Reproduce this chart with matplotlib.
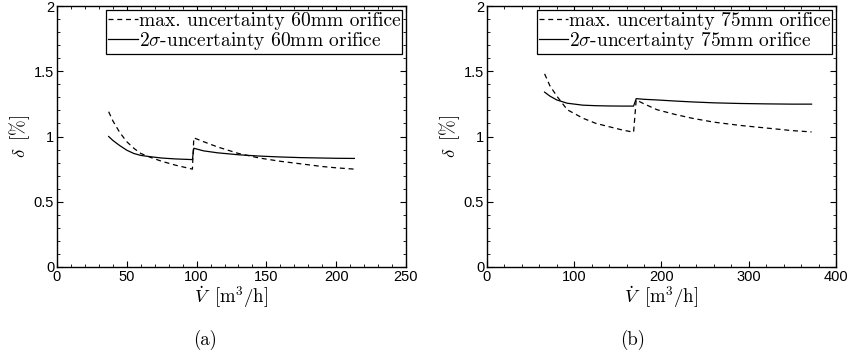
import matplotlib.pyplot as plt
from matplotlib.ticker import MultipleLocator

plt.rcParams['mathtext.fontset'] = 'cm'
plt.rcParams['font.family'] = ['Liberation Sans', 'DejaVu Sans']

# (a) 60mm orifice
x_a1 = [37, 40, 45, 50, 55, 60, 67, 75, 85, 97]
max_a1 = [1.19, 1.12, 1.03, 0.96, 0.91, 0.87, 0.84, 0.81, 0.78, 0.75]
sig_a1 = [1.00, 0.97, 0.93, 0.895, 0.87, 0.855, 0.845, 0.835, 0.828, 0.823]
x_a2 = [98, 105, 115, 130, 145, 160, 175, 190, 200, 213]
max_a2 = [0.99, 0.96, 0.92, 0.87, 0.835, 0.81, 0.79, 0.77, 0.76, 0.75]
sig_a2 = [0.91, 0.89, 0.875, 0.86, 0.85, 0.843, 0.838, 0.835, 0.833, 0.832]

# (b) 75mm orifice
x_b1 = [66, 72, 80, 92, 110, 125, 140, 155, 168]
max_b1 = [1.48, 1.39, 1.31, 1.205, 1.14, 1.10, 1.075, 1.05, 1.033]
sig_b1 = [1.34, 1.31, 1.28, 1.255, 1.24, 1.236, 1.234, 1.233, 1.233]
x_b2 = [171, 180, 195, 215, 235, 260, 290, 320, 350, 372]
max_b2 = [1.28, 1.25, 1.205, 1.17, 1.14, 1.11, 1.085, 1.065, 1.045, 1.035]
sig_b2 = [1.29, 1.285, 1.28, 1.272, 1.265, 1.258, 1.253, 1.25, 1.248, 1.248]

panels = [
    (x_a1, max_a1, sig_a1, x_a2, max_a2, sig_a2, '60mm', 250, 50, 10, '(a)'),
    (x_b1, max_b1, sig_b1, x_b2, max_b2, sig_b2, '75mm', 400, 100, 20, '(b)'),
]

fig = plt.figure(figsize=(8.54, 3.53), dpi=100)
lefts = [57 / 854, 487 / 854]
caps = [205 / 854, 633 / 854]
for (xs1, m1, s1, xs2, m2, s2, d, xmax, xmaj, xmin, cap), l, c in zip(panels, lefts, caps):
    ax = fig.add_axes([l, (353 - 267) / 353, 349 / 854, 261 / 353])
    ax.plot(xs1 + xs2, m1 + m2, 'k--', lw=0.9, dashes=(4, 3),
            label='max. uncertainty %s orifice' % d)
    ax.plot(xs1 + xs2, s1 + s2, 'k-', lw=0.9,
            label=r'2$\sigma$-uncertainty %s orifice' % d)
    ax.set_xlim(0, xmax)
    ax.set_ylim(0, 2)
    ax.xaxis.set_major_locator(MultipleLocator(xmaj))
    ax.xaxis.set_minor_locator(MultipleLocator(xmin))
    ax.yaxis.set_major_locator(MultipleLocator(0.5))
    ax.yaxis.set_minor_locator(MultipleLocator(0.1))
    ax.set_yticks([0, 0.5, 1, 1.5, 2])
    ax.set_yticklabels(['0', '0.5', '1', '1.5', '2'])
    ax.tick_params(which='both', direction='in', top=True, right=True,
                   labelsize=10.5, pad=2)
    ax.tick_params(which='major', length=4, width=0.8)
    ax.tick_params(which='minor', length=2, width=0.6)
    for sp in ax.spines.values():
        sp.set_linewidth(1.0)
    ax.set_xlabel(r'$\dot{V}\;\;[\mathrm{m}^3/\mathrm{h}]$', fontsize=13.5, labelpad=0)
    ax.set_ylabel(r'$\delta\;\;[\%]$', fontsize=13.5, labelpad=1)
    leg = ax.legend(loc='upper right', prop={'family': 'cmr10', 'size': 14},
                    handlelength=1.5, handletextpad=0.05, borderpad=0.1,
                    borderaxespad=0.2, labelspacing=0.0, fancybox=False,
                    framealpha=1, edgecolor='k')
    leg.get_frame().set_linewidth(0.9)
    fig.text(c, (353 - 340) / 353, cap, ha='center', va='center', family='cmr10',
             fontsize=13.5)

fig.savefig('out.png', dpi=100)
